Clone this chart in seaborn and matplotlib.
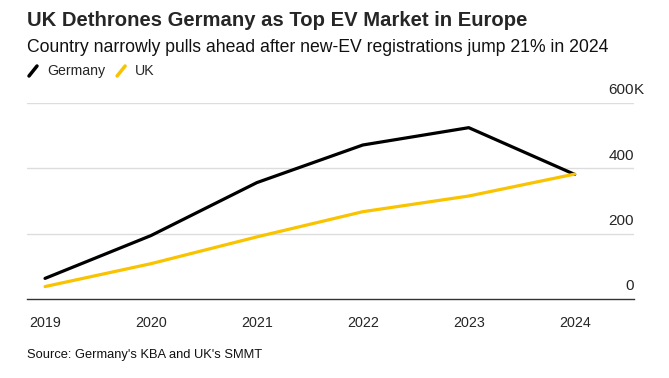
import pandas as pd
import matplotlib.pyplot as plt
import matplotlib.transforms as mtransforms
import seaborn as sns

# Données (immatriculations de VE neufs, en milliers)
years = [2019, 2020, 2021, 2022, 2023, 2024]
germany = [63, 194, 356, 471, 524, 381]
uk = [38, 108, 190, 267, 315, 382]
y_ticks = [0, 200, 400, 600]
series_names = ['Germany', 'UK']
colors = {'Germany': '#000000', 'UK': '#F9C300'}

df = pd.DataFrame({
    'year': years * 2,
    'value': germany + uk,
    'country': ['Germany'] * len(years) + ['UK'] * len(years),
})

sns.set_theme(style='white')
plt.rcParams['font.family'] = ['Liberation Sans', 'DejaVu Sans']

fig = plt.figure(figsize=(6.69, 3.78), dpi=100)
ax = fig.add_axes([0.0404, 0.209, 0.9073, 0.519])

sns.lineplot(data=df, x='year', y='value', hue='country', palette=colors,
             hue_order=series_names, linewidth=2.3, legend=False, ax=ax)

ax.set_xlim(2018.83, 2024.56)
ax.set_ylim(0, 600)
ax.set_xticks(years)
ax.set_xticklabels([str(y) for y in years], fontsize=10.3)
ax.tick_params(axis='x', length=4, width=0.8, color='#888888', pad=8)

# Axe Y à droite, étiquettes au-dessus des lignes de grille
ax.yaxis.tick_right()
ax.set_yticks(y_ticks)
ax.set_yticklabels([str(t) for t in y_ticks], fontsize=11)
ax.tick_params(axis='y', length=0, pad=0)
offset = mtransforms.ScaledTranslation(0, 4 / 72, fig.dpi_scale_trans)
for lab in ax.get_yticklabels():
    lab.set_horizontalalignment('right')
    lab.set_verticalalignment('bottom')
    lab.set_transform(lab.get_transform() + offset)
ax.text(1.0, 600, 'K', transform=mtransforms.blended_transform_factory(ax.transAxes, ax.transData) + offset,
        ha='left', va='bottom', fontsize=11)

for t in y_ticks[1:]:
    ax.axhline(t, color='#dddddd', linewidth=1, zorder=0)

for s in ['top', 'right', 'left']:
    ax.spines[s].set_visible(False)
ax.spines['bottom'].set_color('#333333')
ax.spines['bottom'].set_linewidth(1)
ax.set_xlabel('')
ax.set_ylabel('')

# Titres
fig.text(27 / 669, 1 - 20 / 378, 'UK Dethrones Germany as Top EV Market in Europe',
         fontsize=14.55, fontweight='bold', va='center', ha='left')
fig.text(27 / 669, 1 - 47.5 / 378,
         'Country narrowly pulls ahead after new-EV registrations jump 21% in 2024',
         fontsize=12.7, va='center', ha='left', color='#111111')

# Légende
leg_y = 1 - 71 / 378
x = 29 / 669
for name in series_names:
    fig.add_artist(plt.Line2D([x, x + 8 / 669], [leg_y - 5 / 378, leg_y + 5 / 378],
                              color=colors[name], linewidth=2.5, transform=fig.transFigure))
    t = fig.text(x + 18 / 669, leg_y, name, fontsize=10.2, va='center', ha='left')
    fig.canvas.draw()
    bb = t.get_window_extent()
    x = (bb.x1 + 12) / 669

fig.text(27 / 669, 1 - 355 / 378, "Source: Germany's KBA and UK's SMMT",
         fontsize=9.3, va='center', ha='left', color='#111111')

fig.savefig('out.png', dpi=100)
